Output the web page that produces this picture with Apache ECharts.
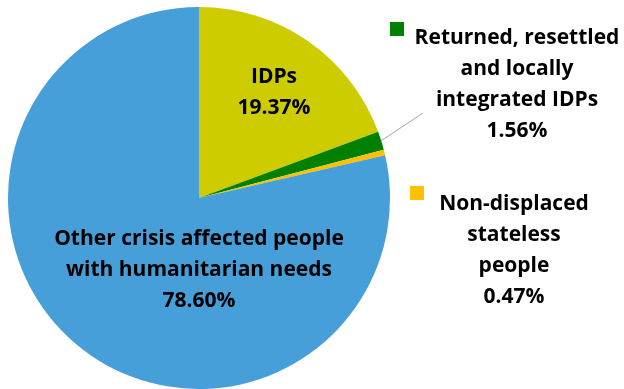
<!DOCTYPE html>
<html>
<head>
<meta charset="utf-8">
<script src="https://cdn.jsdelivr.net/npm/echarts@6/dist/echarts.min.js"></script>
<style>
  html, body { margin: 0; padding: 0; background: #ffffff; }
  #chart { width: 624px; height: 389px; }
</style>
</head>
<body>
<div id="chart"></div>
<script>
// Population groups (slice order, clockwise from 12 o'clock)
const categories = [
  'IDPs',
  'Returned, resettled\nand locally\nintegrated IDPs',
  'Non-displaced\nstateless\npeople',
  'Other crisis affected people\nwith humanitarian needs'
];
// Share of each group, in percent
const shares = [19.37, 1.56, 0.47, 78.60];
const colors = ['#cccc00', '#008000', '#ffc000', '#479fd9'];

// Geometry of the pie and where each label block sits
const CENTER = [199, 198];
const RADIUS = 191;
const LABEL_AT = [
  { x: 274, y: 93 },
  { x: 517, y: 85 },
  { x: 514, y: 251 },
  { x: 199, y: 270 }
];
const LEADER_END = [423, 113];

const FONT = '"Open Sans", Lato, sans-serif';

const chart = echarts.init(document.getElementById('chart'), null, { renderer: 'canvas' });

const total = shares.reduce((a, b) => a + b, 0);
function edgePoint(i) {
  // point on the rim at the middle angle of slice i
  let before = 0;
  for (let k = 0; k < i; k++) before += shares[k];
  const frac = (before + shares[i] / 2) / total;
  const ang = frac * Math.PI * 2;
  return [CENTER[0] + RADIUS * Math.sin(ang), CENTER[1] - RADIUS * Math.cos(ang)];
}

const data = categories.map((name, i) => ({
  name,
  value: shares[i],
  itemStyle: { color: colors[i] },
  labelLine: { show: i === 1, lineStyle: { color: '#a6a6a6', width: 1 } }
}));

const legendKey = (i, left, top) => ({
  data: [categories[i]],
  left, top,
  padding: 0,
  itemWidth: 14,
  itemHeight: 14,
  itemGap: 0,
  icon: 'rect',
  selectedMode: false,
  formatter: () => '',
  textStyle: { fontSize: 1 }
});

chart.setOption({
  animation: false,
  backgroundColor: '#ffffff',
  legend: [legendKey(1, 390, 22), legendKey(2, 410, 186)],
  series: [{
    type: 'pie',
    center: CENTER,
    radius: RADIUS,
    startAngle: 90,
    clockwise: true,
    avoidLabelOverlap: false,
    data,
    itemStyle: { borderWidth: 0 },
    label: {
      show: true,
      position: 'outside',
      formatter: p => p.name + '\n' + p.value.toFixed(2) + '%',
      fontFamily: FONT,
      fontWeight: 'bold',
      fontSize: 21,
      lineHeight: 31,
      color: '#000000',
      align: 'center'
    },
    labelLine: { show: false },
    labelLayout: p => {
      const pos = LABEL_AT[p.dataIndex];
      const out = { x: pos.x, y: pos.y, align: 'center', verticalAlign: 'middle', moveOverlap: null, hideOverlap: false };
      if (p.dataIndex === 1) {
        out.labelLinePoints = [edgePoint(1), LEADER_END, LEADER_END];
      }
      return out;
    },
    emphasis: { disabled: true }
  }]
});
</script>
</body>
</html>
